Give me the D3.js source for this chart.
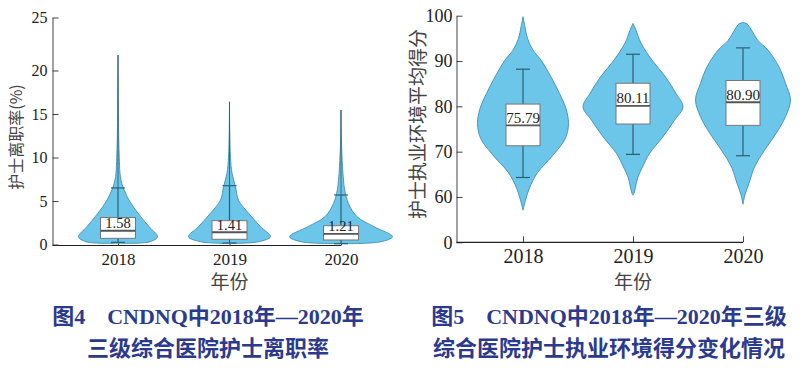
<!DOCTYPE html>
<html>
<head>
<meta charset="utf-8">
<script src="https://cdn.jsdelivr.net/npm/d3@7"></script>
<style>
  body { margin: 0; background: #fff; }
  text { font-family: "Liberation Serif", "Noto Sans CJK SC", serif; }
  .cjk { font-family: "Noto Sans CJK SC", sans-serif; }
</style>
</head>
<body>
<script>
var years = ["2018", "2019", "2020"];

// fig 4: nurse turnover rate (%)
var rateTicks = [0, 5, 10, 15, 20, 25];
var rateMedian = [1.58, 1.41, 1.21];
var rateQ1 = [0.71, 0.60, 0.52];
var rateQ3 = [3.10, 2.74, 2.16];
var rateLow = [0.25, 0.17, 0.10];
var rateHigh = [6.50, 6.76, 5.69];
// [value, relative density]
var rateDensity2018 = [[21.46, 0], [18, 0.005], [14, 0.01], [12, 0.015], [10, 0.025], [8.2, 0.04], [7.4, 0.06], [6.6, 0.1], [5.1, 0.22], [3.6, 0.4], [2.05, 0.62], [0.9, 0.79], [0.32, 0.64], [0.15, 0]];
var rateDensity2019 = [[16.4, 0], [13, 0.005], [10, 0.02], [8.2, 0.05], [6.64, 0.12], [5.1, 0.18], [3.6, 0.38], [2.05, 0.62], [0.9, 0.82], [0.32, 0.58], [0.12, 0]];
var rateDensity2020 = [[15.46, 0], [12, 0.008], [9, 0.03], [7.4, 0.05], [6.26, 0.074], [4.7, 0.15], [3.2, 0.32], [2.05, 0.66], [0.9, 1.03], [0.32, 0.8], [0.1, 0]];

// fig 5: practice environment score
var envTicks = [50, 60, 70, 80, 90, 100];
var envTickLabels = ["0", "60", "70", "80", "90", "100"];
var envMedian = [75.79, 80.11, 80.90];
var envQ1 = [71.3, 76.1, 75.8];
var envQ3 = [80.5, 85.1, 85.7];
var envLow = [64.3, 69.4, 69.1];
var envHigh = [88.2, 91.5, 92.9];
var envDensity2018 = [[99.8, 0], [97.5, 0.04], [95, 0.09], [92.4, 0.2], [90.2, 0.36], [86.5, 0.56], [82.85, 0.73], [79.5, 0.86], [76.2, 0.91], [73, 0.85], [69.6, 0.63], [65.2, 0.28], [62, 0.13], [59.3, 0.05], [57.1, 0]];
var envDensity2019 = [[98.3, 0], [96.8, 0.06], [93.97, 0.16], [90.2, 0.38], [86.5, 0.65], [82.85, 0.86], [79.9, 1.0], [76.95, 0.83], [73.3, 0.6], [69.6, 0.33], [66.6, 0.19], [64.4, 0.1], [60.8, 0.02], [60.4, 0]];
var envDensity2020 = [[98.5, 0], [98.2, 0.08], [97, 0.16], [94.5, 0.3], [92.4, 0.5], [88.7, 0.72], [85.1, 0.85], [81.4, 0.95], [77.7, 0.85], [74.0, 0.66], [70.3, 0.43], [66.6, 0.23], [63.0, 0.12], [60.5, 0.04], [58.4, 0]];

var caption4 = ["图4\u3000CNDNQ中2018年—2020年", "三级综合医院护士离职率"];
var caption5 = ["图5\u3000CNDNQ中2018年—2020年三级", "综合医院护士执业环境得分变化情况"];

var svg = d3.select("body").append("svg")
    .attr("width", 806).attr("height", 376);

svg.append("rect").attr("width", 806).attr("height", 376).attr("fill", "#fff");

var widthScale = d3.scaleLinear().domain([0, 1]).range([0, 50]);

function drawPanel(p) {
    var g = svg.append("g");
    var x = p.x, y = p.y;

    // y axis, ticks pointing inward
    var yAxis = d3.axisLeft(y).tickValues(p.ticks).tickSizeInner(-6).tickSizeOuter(0)
        .tickPadding(p.yPad).tickFormat((d, i) => p.tickLabels[i]);
    var ya = g.append("g").attr("transform", "translate(" + p.axisX + ",0)").call(yAxis);
    ya.selectAll("text").attr("font-size", p.yFont).attr("fill", "#222")
        .style("font-family", "Liberation Serif");
    ya.selectAll("line, path").attr("stroke", "#444");

    // x axis, domain drawn from y axis to last category
    var xAxis = d3.axisBottom(x).tickSizeInner(-6).tickSizeOuter(0).tickPadding(7);
    var xa = g.append("g").attr("transform", "translate(0," + p.axisY + ")").call(xAxis);
    xa.select(".domain").remove();
    xa.append("line").attr("x1", p.axisX).attr("x2", x(years[years.length - 1]))
        .attr("stroke", "#222").attr("stroke-width", 1.2);
    xa.selectAll(".tick line").attr("stroke", "#444");
    xa.selectAll("text").attr("font-size", p.xFont).attr("fill", "#222")
        .style("font-family", "Liberation Serif");

    var area = d3.area()
        .y(d => y(d[0]))
        .curve(d3.curveCatmullRom.alpha(0.5));

    years.forEach(function (yr, i) {
        var cx = x(yr);
        var dens = p.density[i];
        area.x0(d => cx - widthScale(d[1])).x1(d => cx + widthScale(d[1]));
        g.append("path").attr("d", area(dens))
            .attr("fill", "#6cc6ea").attr("stroke", "#3f8fb4").attr("stroke-width", 0.9);

        // thin centre line up the long tail
        if (p.tailLine) {
            g.append("line").attr("x1", cx).attr("x2", cx)
                .attr("y1", y(dens[0][0])).attr("y2", y(p.high[i]))
                .attr("stroke", "#3a4f5a").attr("stroke-width", 0.8);
        }

        // whisker + caps
        g.append("line").attr("x1", cx).attr("x2", cx)
            .attr("y1", y(p.high[i])).attr("y2", y(p.low[i]))
            .attr("stroke", "#2d5f73").attr("stroke-width", 1.2);
        [p.high[i], p.low[i]].forEach(function (v) {
            g.append("line").attr("x1", cx - 7).attr("x2", cx + 7)
                .attr("y1", y(v)).attr("y2", y(v))
                .attr("stroke", "#2d5f73").attr("stroke-width", 1.2);
        });

        // box
        g.append("rect").attr("x", cx - p.boxW / 2).attr("width", p.boxW)
            .attr("y", y(p.q3[i])).attr("height", y(p.q1[i]) - y(p.q3[i]))
            .attr("fill", "#fff").attr("stroke", "#777").attr("stroke-width", 1);
        g.append("line").attr("x1", cx - p.boxW / 2).attr("x2", cx + p.boxW / 2)
            .attr("y1", y(p.median[i])).attr("y2", y(p.median[i]))
            .attr("stroke", "#555").attr("stroke-width", 1.8);
        g.append("text").attr("x", cx).attr("y", y(p.median[i]) - 2.5)
            .attr("text-anchor", "middle").attr("font-size", p.labelFont).attr("fill", "#222")
            .text(p.median[i].toFixed(2));
    });

    // axis titles
    g.append("text").attr("class", "cjk")
        .attr("transform", "translate(" + p.titleX + "," + p.titleY + ") rotate(-90)")
        .attr("text-anchor", "middle").attr("dy", "0.35em")
        .attr("font-size", p.titleFont).attr("fill", "#444").text(p.title);
    g.append("text").attr("class", "cjk")
        .attr("x", x(years[1])).attr("y", 289)
        .attr("text-anchor", "middle").attr("font-size", 19).attr("fill", "#444").text("年份");
}

drawPanel({
    x: d3.scalePoint().domain(years).range([118, 341]),
    y: d3.scaleLinear().domain([0, 20, 25]).range([244.5, 70.5, 17.5]),
    axisX: 52.5, axisY: 245.5,
    ticks: rateTicks, tickLabels: rateTicks.map(String),
    yFont: 16, xFont: 17, yPad: 5, labelFont: 14.5, boxW: 35, tailLine: true,
    median: rateMedian, q1: rateQ1, q3: rateQ3, low: rateLow, high: rateHigh,
    density: [rateDensity2018, rateDensity2019, rateDensity2020],
    title: "护士离职率(%)", titleX: 16, titleY: 137, titleFont: 16
});

drawPanel({
    x: d3.scalePoint().domain(years).range([523, 743]),
    y: d3.scaleLinear().domain([50, 100]).range([242.3, 15.7]),
    axisX: 456.5, axisY: 242.3,
    ticks: envTicks, tickLabels: envTickLabels,
    yFont: 18, xFont: 20, yPad: 4, labelFont: 15, boxW: 34, tailLine: false,
    median: envMedian, q1: envQ1, q3: envQ3, low: envLow, high: envHigh,
    density: [envDensity2018, envDensity2019, envDensity2020],
    title: "护士执业环境平均得分", titleX: 418, titleY: 124, titleFont: 19
});

// crop line under the axis titles, as in the source image
svg.append("rect").attr("x", 0).attr("y", 291).attr("width", 806).attr("height", 10).attr("fill", "#fff");

// captions
[[caption4, 208], [caption5, 609]].forEach(function (c) {
    c[0].forEach(function (line, i) {
        svg.append("text").attr("x", c[1]).attr("y", 324 + i * 32)
            .attr("text-anchor", "middle").attr("font-size", 22).attr("font-weight", "bold")
            .attr("fill", "#2b3a8e").text(line);
    });
});
</script>
</body>
</html>
